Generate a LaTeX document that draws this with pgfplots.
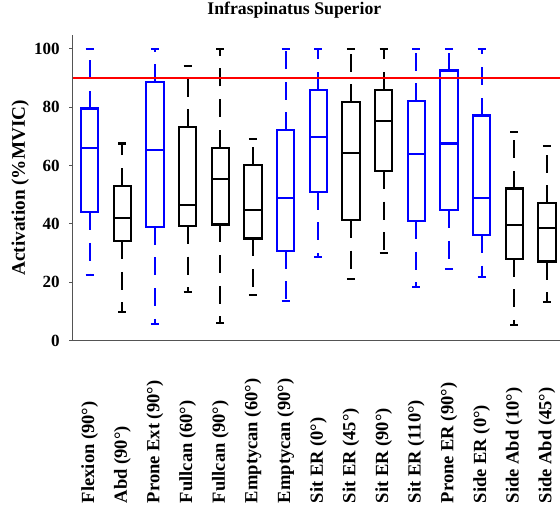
\documentclass[border=0pt]{standalone}
\usepackage{pgfplots}
\pgfplotsset{compat=1.18}
\usepgfplotslibrary{statistics}
\usepackage{fontspec}
\setmainfont{Liberation Serif}
\definecolor{mblue}{rgb}{0,0,1}
\definecolor{spine}{rgb}{0.33,0.33,0.33}
\newcommand{\bx}[7]{\addplot[#1, solid, line width=1.6pt, boxplot prepared={draw position=#2, lower whisker=#3, lower quartile=#4, median=#5, upper quartile=#6, upper whisker=#7}] coordinates {};}
\begin{document}
\begin{tikzpicture}
\begin{axis}[
  scale only axis,
  width=365.5pt, height=229.3pt,
  xmin=0.48, xmax=15.4, ymin=0, ymax=104.7,
  axis lines*=left,
  axis line style={spine, line width=0.9pt},
  ytick={0,20,40,60,80,100},
  xtick={1,...,15},
  xticklabels={Flexion (90°),Abd (90°),Prone Ext (90°),Fullcan (60°),Fullcan (90°),Emptycan (60°),Emptycan (90°),Sit ER (0°),Sit ER (45°),Sit ER (90°),Sit ER (110°),Prone ER (90°),Side ER (0°),Side Abd (10°),Side Abd (45°)},
  x tick style={draw=none},
  y tick style={spine, line width=0.8pt},
  tick align=outside,
  major tick length=2.5pt,
  yticklabel style={font=\fontsize{12.8}{14}\selectfont\bfseries, inner sep=0pt, xshift=-7pt},
  /pgf/number format/assume math mode=true,
  xticklabel style={font=\fontsize{13.9}{15}\selectfont\bfseries, inner sep=0pt, yshift=-119.5pt, rotate=90, anchor=west},
  title={Infraspinatus Superior},
  title style={font=\fontsize{13.3}{15}\selectfont\bfseries, at={(0.5,1)}, anchor=base, yshift=9pt, xshift=-16.5pt},
  ylabel={Activation (\%MVIC)},
  every axis y label/.style={at={(axis description cs:0,0.5)}, rotate=90, anchor=base, yshift=35.8pt, font=\fontsize{14.4}{16}\selectfont\bfseries},
  boxplot/draw direction=y,
  boxplot/box extend=0.53,
  boxplot/whisker extend=0.25,
  boxplot/every whisker/.style={dash pattern=on 13.5pt off 9.5pt},
  clip=false,
]
\bx{mblue}{1}{22.5}{44}{66}{79.5}{100}
\bx{black}{2}{9.7}{34.1}{42.1}{53.0}{67.5}
\bx{mblue}{3}{5.7}{39}{65.2}{88.5}{100}
\bx{black}{4}{16.6}{39.3}{46.5}{73.1}{94.2}
\bx{black}{5}{6.2}{39.8}{55.5}{66.1}{100}
\bx{black}{6}{15.5}{35.0}{44.7}{60.1}{69.2}
\bx{mblue}{7}{13.5}{30.8}{49.0}{72.0}{100}
\bx{mblue}{8}{28.6}{51.0}{69.8}{85.9}{100}
\bx{black}{9}{21.1}{41.3}{64.4}{81.6}{100}
\bx{black}{10}{29.9}{58.1}{75.2}{85.9}{100}
\bx{mblue}{11}{18.5}{41.0}{63.9}{82.0}{100}
\bx{mblue}{12}{24.6}{44.7}{67.5}{92.5}{100}
\bx{mblue}{13}{21.9}{36.2}{49.0}{77.1}{100}
\bx{black}{14}{5.4}{28.1}{39.5}{52.1}{71.4}
\bx{black}{15}{13.2}{27.1}{38.6}{47.0}{66.7}
\addplot[red, line width=1.5pt, no marks] coordinates {(0.48,90) (15.4,90)};
\end{axis}
\pgfresetboundingbox
\path[use as bounding box] ([xshift=-54.5pt,yshift=-125.5pt]current axis.south west) rectangle ++(420pt,381pt);
\end{tikzpicture}
\end{document}
